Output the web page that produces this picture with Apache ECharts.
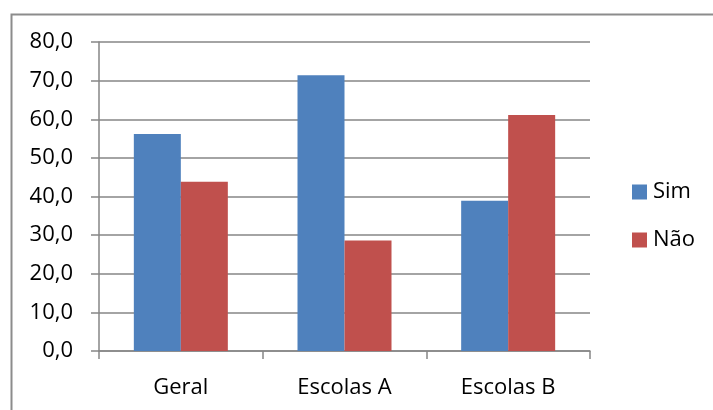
<!DOCTYPE html>
<html>
<head>
<meta charset="utf-8">
<script src="https://cdn.jsdelivr.net/npm/echarts@6/dist/echarts.min.js"></script>
<style>html,body{margin:0;padding:0;background:#fff}#c{width:713px;height:410px}</style>
</head>
<body>
<div id="c"></div>
<script>
const categories = ['Geral', 'Escolas A', 'Escolas B'];
const simValues = [56.2, 71.4, 38.9];
const naoValues = [43.8, 28.6, 61.1];
const seriesNames = ['Sim', 'Não'];

const FONT = '"Open Sans", sans-serif';
const chart = echarts.init(document.getElementById('c'), null, {renderer: 'canvas'});
chart.setOption({
  animation: false,
  backgroundColor: '#fff',
  graphic: [{
    type: 'rect', left: 9, top: 12,
    shape: {width: 720, height: 420},
    style: {fill: 'none', stroke: '#8c8c8c', lineWidth: 2}
  }],
  grid: {left: 99, right: 123, top: 42, bottom: 59, containLabel: false},
  legend: {
    orient: 'vertical', left: 632, top: 181, padding: 0,
    itemWidth: 15, itemHeight: 15, itemGap: 26,
    icon: 'rect',
    textStyle: {fontFamily: FONT, fontSize: 22, color: '#000', padding: [0,0,0,1]},
    data: seriesNames
  },
  xAxis: {
    type: 'category', data: categories,
    axisLine: {lineStyle: {color: '#868686', width: 1.5}},
    axisTick: {show: true, length: 8, lineStyle: {color: '#868686', width: 1.5}},
    axisLabel: {fontFamily: FONT, fontSize: 22, color: '#000', margin: 26}
  },
  yAxis: {
    type: 'value', min: 0, max: 80, interval: 10,
    axisLine: {show: true, lineStyle: {color: '#868686', width: 1.5}},
    axisTick: {show: true, length: 8, lineStyle: {color: '#868686', width: 1.5}},
    splitLine: {lineStyle: {color: '#868686', width: 1.5}},
    axisLabel: {fontFamily: FONT, fontSize: 22, color: '#000', margin: 26,
      formatter: v => v.toFixed(1).replace('.', ',')}
  },
  series: [
    {name: seriesNames[0], type: 'bar', data: simValues, barWidth: 47, barGap: '0%',
     itemStyle: {color: '#4F81BD'}},
    {name: seriesNames[1], type: 'bar', data: naoValues, barWidth: 47, barGap: '0%',
     itemStyle: {color: '#C0504D'}}
  ]
});
</script>
</body>
</html>
